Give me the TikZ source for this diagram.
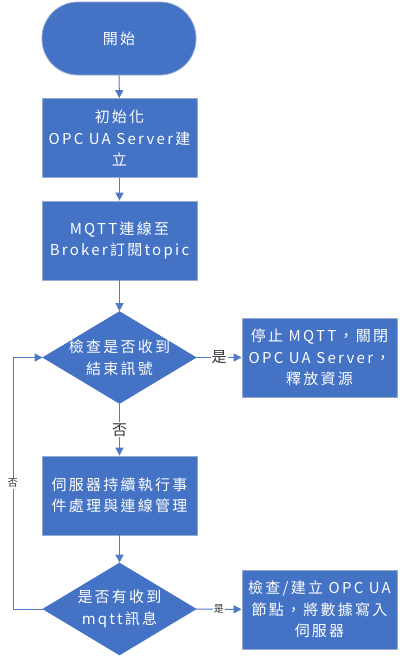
\documentclass[tikz,border=0pt]{standalone}
\usepackage{fontspec}
\setmainfont{Noto Sans CJK TC}
\newfontfamily\boxfont[LetterSpace=15]{Noto Sans CJK TC}
\usetikzlibrary{shapes.geometric,arrows.meta}
\definecolor{fillblue}{RGB}{68,114,196}
\definecolor{edgeblue}{RGB}{150,170,210}
\definecolor{lineblue}{RGB}{80,120,196}
\tikzset{
  base/.style={fill=fillblue,draw=edgeblue,line width=0.8pt,text=white,font=\boxfont\fontsize{15}{21.5}\selectfont,align=center,inner sep=0pt},
  procbox/.style={base,rectangle,minimum width=155pt,minimum height=79pt},
  termbox/.style={base,rectangle,rounded corners=36pt,minimum width=154pt,minimum height=73pt},
  decbox/.style={base,diamond,minimum width=153pt,minimum height=92pt,draw=fillblue},
  dectext/.style={text=white,font=\boxfont\fontsize{15}{21.5}\selectfont,align=center,inner sep=0pt},
  conn/.style={draw=lineblue,line width=1pt,-{Triangle[length=8pt,width=8pt]}},
  lbl/.style={fill=white,inner sep=1pt,font=\fontsize{15}{16}\selectfont,text=black!80},
  smlbl/.style={fill=white,inner sep=1pt,font=\fontsize{10}{12}\selectfont,text=black!80}
}
\begin{document}
\begin{tikzpicture}[x=1pt,y=-1pt]
\useasboundingbox (0,0) rectangle (413,657);
\node[termbox] (start) at (119,38.5) {開始};
\node[procbox] (b1) at (119.5,138) {初始化\\OPC UA Server建\\立};
\node[procbox] (b2) at (119.5,240.5) {MQTT連線至\\Broker訂閱topic};
\node[decbox] (d1) at (119.5,357.5) {};
\node[dectext] (d1t) at (d1.center) {檢查是否收到\\結束訊號};
\node[procbox] (r1) at (319.5,357.5) {停止 MQTT，關閉\\OPC UA Server，\\釋放資源};
\node[procbox] (b3) at (119.5,495.5) {伺服器持續執行事\\件處理與連線管理};
\node[decbox] (d2) at (119.5,609) {};
\node[dectext] (d2t) at (d2.center) {是否有收到\\mqtt訊息};
\node[procbox] (r2) at (319.5,609.5) {檢查/建立 OPC UA\\節點，將數據寫入\\伺服器};
\coordinate (lb) at (13,609);
\coordinate (lt) at (13,357.5);
\draw[conn] (start) -- (b1);
\draw[conn] (b1) -- (b2);
\draw[conn] (b2) -- (d1);
\draw[conn] (d1) -- node[lbl] (no1) {否} (b3);
\draw[conn] (d1) -- node[lbl] (yes1) {是} (r1);
\draw[conn] (b3) -- (d2);
\draw[conn] (d2) -- node[smlbl] (yes2) {是} (r2);
\draw[conn] (d2.west) -- (lb) -- node[smlbl] (no2) {否} (lt) -- (d1.west);
\end{tikzpicture}
\end{document}
